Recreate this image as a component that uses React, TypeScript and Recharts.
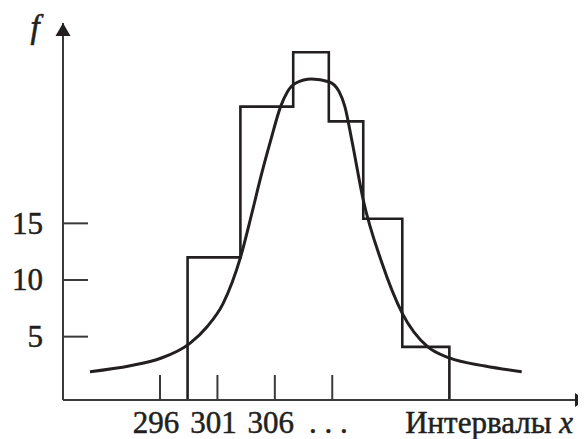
import React from "react";
import { ComposedChart, Line, XAxis, YAxis, ReferenceDot } from "recharts";

// Histogram interval boundaries (x) and frequencies (f)
const binEdges = [298.4, 303.0, 307.6, 310.7, 313.7, 317.1, 321.2];
const binFreqs = [12, 25.3, 30.1, 24, 15.4, 4.1];

// Fitted curve points
const curveX = [289.9, 293.4, 296.0, 298.6, 300.1, 301.5, 303.0, 304.0, 304.8, 305.65, 306.5, 307.1, 307.8, 309.2, 310.7, 311.6, 312.1, 312.7, 313.7, 315.3, 317.1, 319.3, 321.2, 324.3, 327.5];
const curveF = [1.91, 2.44, 3.07, 4.41, 5.88, 7.94, 11.97, 15.89, 19.18, 22.36, 25.3, 26.62, 27.36, 27.74, 27.5, 26.62, 25.3, 22.36, 17.06, 11.59, 7.06, 4.11, 3.12, 2.41, 1.91];

const xTicks = [296, 301, 306, 311];
const xTickLabels = ["296", "301", "306", ". . ."];
const yTicks = [5, 10, 15];

const X_MIN = 287.55;
const X_MAX = 333.1;
const Y_MIN = -0.59;
const Y_MAX = 32.68;

const histData = [
  { x: binEdges[0], f: Y_MIN },
  ...binFreqs.map((f, i) => ({ x: binEdges[i], f })),
  { x: binEdges[binEdges.length - 1], f: Y_MIN },
];
const curveData = curveX.map((x, i) => ({ x, f: curveF[i] }));

const INK = "#231f20";
const AXIS = "#3a3a3a";
const FONT = "'Liberation Serif', 'Times New Roman', serif";
const FS = 31;

const YTick = (props: any) => {
  const { x, y, payload } = props;
  return (
    <g>
      <line x1={x} y1={y} x2={x + 25} y2={y} stroke={AXIS} strokeWidth={2} />
      <text x={x - 20} y={y + 10.5} textAnchor="end" fontFamily={FONT} fontSize={FS} fill={INK} stroke={INK} strokeWidth={0.5}>
        {payload.value}
      </text>
    </g>
  );
};

const XTick = (props: any) => {
  const { x, y, payload } = props;
  const idx = xTicks.indexOf(payload.value);
  return (
    <g>
      <line x1={x} y1={y} x2={x} y2={y - 25} stroke={AXIS} strokeWidth={2} />
      <text x={x - 4} y={y + 33} textAnchor="middle" fontFamily={FONT} fontSize={FS} fill={INK} stroke={INK} strokeWidth={0.5}>
        {xTickLabels[idx]}
      </text>
    </g>
  );
};

const UpArrow = (props: any) => {
  const { cx, cy } = props;
  return <polygon points={`${cx},${cy} ${cx - 7.5},${cy + 13} ${cx + 7.5},${cy + 13}`} fill={INK} />;
};
const RightArrow = (props: any) => {
  const { cx, cy } = props;
  return <polygon points={`${cx},${cy} ${cx - 11},${cy - 7} ${cx - 11},${cy + 7}`} fill={INK} />;
};

export default function App() {
  return (
    <ComposedChart width={578} height={431} margin={{ top: 15, right: 0, bottom: 0, left: 0 }}>
      <XAxis
        dataKey="x"
        type="number"
        domain={[X_MIN, X_MAX]}
        allowDataOverflow
        ticks={xTicks}
        interval={0}
        height={39}
        tickSize={0}
        tickMargin={0}
        tickLine={false}
        axisLine={{ stroke: AXIS, strokeWidth: 2 }}
        tick={<XTick />}
        label={{
          content: (p: any) => {
            const vb = p.viewBox;
            return (
              <text x={vb.x + vb.width - 13} y={vb.y + 33} textAnchor="end" fontFamily={FONT} fontSize={FS} fill={INK} stroke={INK} strokeWidth={0.5}>
                Интервалы <tspan fontStyle="italic">x</tspan>
              </text>
            );
          },
        }}
      />
      <YAxis
        type="number"
        domain={[Y_MIN, Y_MAX]}
        allowDataOverflow
        ticks={yTicks}
        interval={0}
        width={55}
        tickSize={0}
        tickMargin={0}
        tickLine={false}
        axisLine={{ stroke: AXIS, strokeWidth: 2 }}
        tick={<YTick />}
        label={{
          content: (p: any) => {
            const vb = p.viewBox;
            return (
              <text x={vb.x + 27} y={vb.y + 15} textAnchor="middle" fontFamily={FONT} fontStyle="italic" fontSize={33} fill={INK} stroke={INK} strokeWidth={0.6}>
                f
              </text>
            );
          },
        }}
      />
      <Line
        data={histData}
        dataKey="f"
        type="stepAfter"
        stroke={INK}
        strokeWidth={2.6}
        dot={false}
        isAnimationActive={false}
      />
      <Line
        data={curveData}
        dataKey="f"
        type="monotone"
        stroke={INK}
        strokeWidth={3}
        dot={false}
        isAnimationActive={false}
      />
      <ReferenceDot x={X_MIN} y={Y_MAX} ifOverflow="visible" shape={<UpArrow />} />
      <ReferenceDot x={X_MAX} y={Y_MIN} ifOverflow="visible" shape={<RightArrow />} />
    </ComposedChart>
  );
}
